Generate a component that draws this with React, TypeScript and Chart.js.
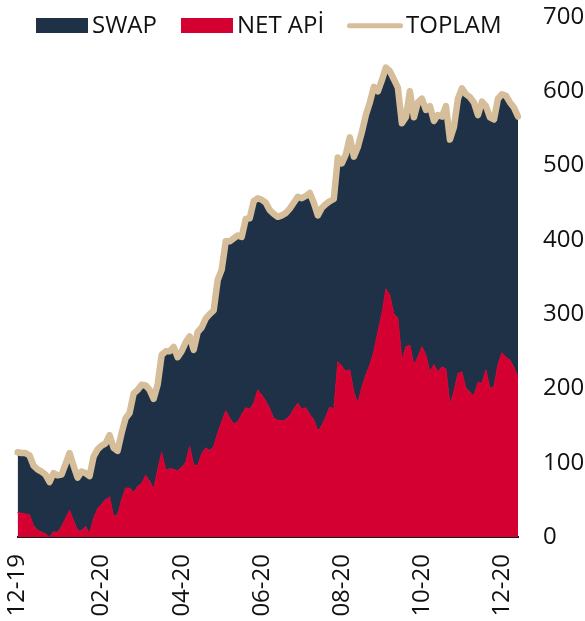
import React, { useEffect, useRef } from 'react';
import { Chart, registerables } from 'chart.js';

Chart.register(...registerables);

const TICK_LABELS = ['12-19', '02-20', '04-20', '06-20', '08-20', '10-20', '12-20'];
const TICK_POSITIONS = [0, 21, 41, 61, 81, 101, 121];

const Y_TICKS = [0, 100, 200, 300, 400, 500, 600, 700];

const TOPLAM = [
  114, 113, 113, 110, 96, 91, 88, 84, 74, 86,
  83, 84, 98, 113, 96, 80, 88, 86, 82, 108,
  118, 123, 126, 137, 120, 116, 140, 160, 167, 193,
  198, 205, 204, 198, 186, 205, 245, 250, 250, 256,
  242, 250, 262, 270, 252, 276, 282, 294, 300, 305,
  346, 360, 398, 398, 402, 406, 404, 428, 429, 452,
  456, 454, 450, 440, 435, 431, 433, 436, 442, 450,
  458, 456, 459, 463, 450, 433, 443, 448, 452, 455,
  511, 503, 515, 538, 512, 525, 545, 568, 585, 606,
  600, 615, 632, 627, 616, 605, 557, 565, 600, 565,
  585, 590, 575, 580, 560, 568, 566, 580, 535, 552,
  590, 604, 596, 592, 585, 568, 586, 580, 565, 562,
  590, 596, 594, 585, 578, 566,
];

const NET_API = [
  33, 32, 31, 30, 15, 9, 7, 4, 0, 7,
  6, 14, 25, 36, 22, 9, 8, 14, 5, 25,
  38, 44, 50, 54, 28, 30, 50, 66, 66, 60,
  68, 72, 83, 75, 65, 90, 114, 90, 92, 91,
  89, 94, 100, 122, 97, 96, 112, 120, 116, 122,
  140, 155, 170, 160, 152, 155, 165, 174, 172, 180,
  198, 191, 183, 173, 160, 157, 156, 158, 163, 172,
  180, 172, 174, 165, 158, 143, 150, 162, 175, 172,
  236, 230, 223, 225, 195, 180, 202, 218, 232, 250,
  276, 300, 334, 325, 300, 294, 238, 256, 258, 232,
  242, 256, 245, 222, 232, 222, 229, 226, 178, 196,
  220, 222, 200, 195, 190, 208, 207, 225, 200, 203,
  232, 248, 242, 238, 228, 215,
];

const NAVY = '#1f3146';
const RED = '#d30031';
const BEIGE = '#d5be99';
const TEXT = '#111111';
const FONT_FAMILY = '"Open Sans", "Noto Sans", sans-serif';
const FONT_SIZE = 24;

const legendPlugin = {
  id: 'topLegend',
  afterDraw(chart: any) {
    const ctx = chart.ctx as CanvasRenderingContext2D;
    const items = [
      { label: 'SWAP', kind: 'box', color: NAVY, x: 36, w: 52, tx: 92 },
      { label: 'NET APİ', kind: 'box', color: RED, x: 181, w: 52, tx: 237 },
      { label: 'TOPLAM', kind: 'line', color: BEIGE, x: 349.5, w: 51, tx: 406 },
    ];
    ctx.save();
    ctx.font = `${FONT_SIZE}px ${FONT_FAMILY}`;
    ctx.textBaseline = 'alphabetic';
    ctx.textAlign = 'left';
    for (const it of items) {
      if (it.kind === 'box') {
        ctx.fillStyle = it.color;
        ctx.fillRect(it.x, 18, it.w, 15);
      } else {
        ctx.strokeStyle = it.color;
        ctx.lineWidth = 5;
        ctx.lineCap = 'round';
        ctx.beginPath();
        ctx.moveTo(it.x, 25.8);
        ctx.lineTo(it.x + it.w, 25.8);
        ctx.stroke();
      }
      ctx.fillStyle = TEXT;
      ctx.fillText(it.label, it.tx, 32.5);
    }
    ctx.restore();
  },
};

export default function App() {
  const canvasRef = useRef<HTMLCanvasElement | null>(null);

  useEffect(() => {
    if (!canvasRef.current) return;
    const categories = TOPLAM.map((_, i) => {
      const k = TICK_POSITIONS.indexOf(i);
      return k >= 0 ? TICK_LABELS[k] : '';
    });
    const swap = TOPLAM.map((t, i) => t - NET_API[i]);

    const chart = new Chart(canvasRef.current, {
      type: 'line',
      data: {
        labels: categories,
        datasets: [
          {
            label: 'TOPLAM',
            data: TOPLAM,
            stack: 'total',
            borderColor: BEIGE,
            borderWidth: 6.5,
            borderJoinStyle: 'round',
            borderCapStyle: 'round',
            pointRadius: 0,
            fill: false,
            tension: 0,
          },
          {
            label: 'NET APİ',
            data: NET_API,
            stack: 'parts',
            borderColor: RED,
            backgroundColor: RED,
            borderWidth: 1,
            pointRadius: 0,
            fill: 'origin',
            tension: 0,
          },
          {
            label: 'SWAP',
            data: swap,
            stack: 'parts',
            borderColor: NAVY,
            backgroundColor: NAVY,
            borderWidth: 1,
            pointRadius: 0,
            fill: '-1',
            tension: 0,
          },
        ],
      },
      options: {
        animation: false,
        responsive: true,
        maintainAspectRatio: false,
        layout: { padding: { left: 17.5, right: 0, top: 17, bottom: 0 } },
        plugins: {
          legend: { display: false },
          tooltip: { enabled: false },
        },
        scales: {
          x: {
            type: 'category',
            offset: false,
            grid: { display: false, drawTicks: false },
            border: { display: true, color: '#1a1a1a', width: 2 },
            afterBuildTicks: (axis: any) => {
              axis.ticks = TICK_POSITIONS.map((v) => ({ value: v }));
            },
            afterFit: (axis: any) => {
              axis.height = 84;
              axis.paddingLeft = 0;
              axis.paddingRight = 0;
            },
            ticks: {
              autoSkip: false,
              minRotation: 90,
              maxRotation: 90,
              padding: 17,
              color: TEXT,
              font: { family: FONT_FAMILY, size: FONT_SIZE },
            },
          },
          y: {
            position: 'right',
            stacked: true,
            min: 0,
            max: 700,
            afterBuildTicks: (axis: any) => {
              axis.ticks = Y_TICKS.map((v) => ({ value: v }));
            },
            afterFit: (axis: any) => {
              axis.width = 67;
              axis.paddingTop = 0;
              axis.paddingBottom = 0;
            },
            grid: { display: false, drawTicks: false },
            border: { display: false },
            ticks: {
              padding: 25,
              color: TEXT,
              font: { family: FONT_FAMILY, size: FONT_SIZE },
            },
          },
        },
      },
      plugins: [legendPlugin],
    });
    return () => chart.destroy();
  }, []);

  return (
    <div style={{ position: 'absolute', left: 0, top: 0, width: 585, height: 621 }}>
      <canvas ref={canvasRef} />
    </div>
  );
}
